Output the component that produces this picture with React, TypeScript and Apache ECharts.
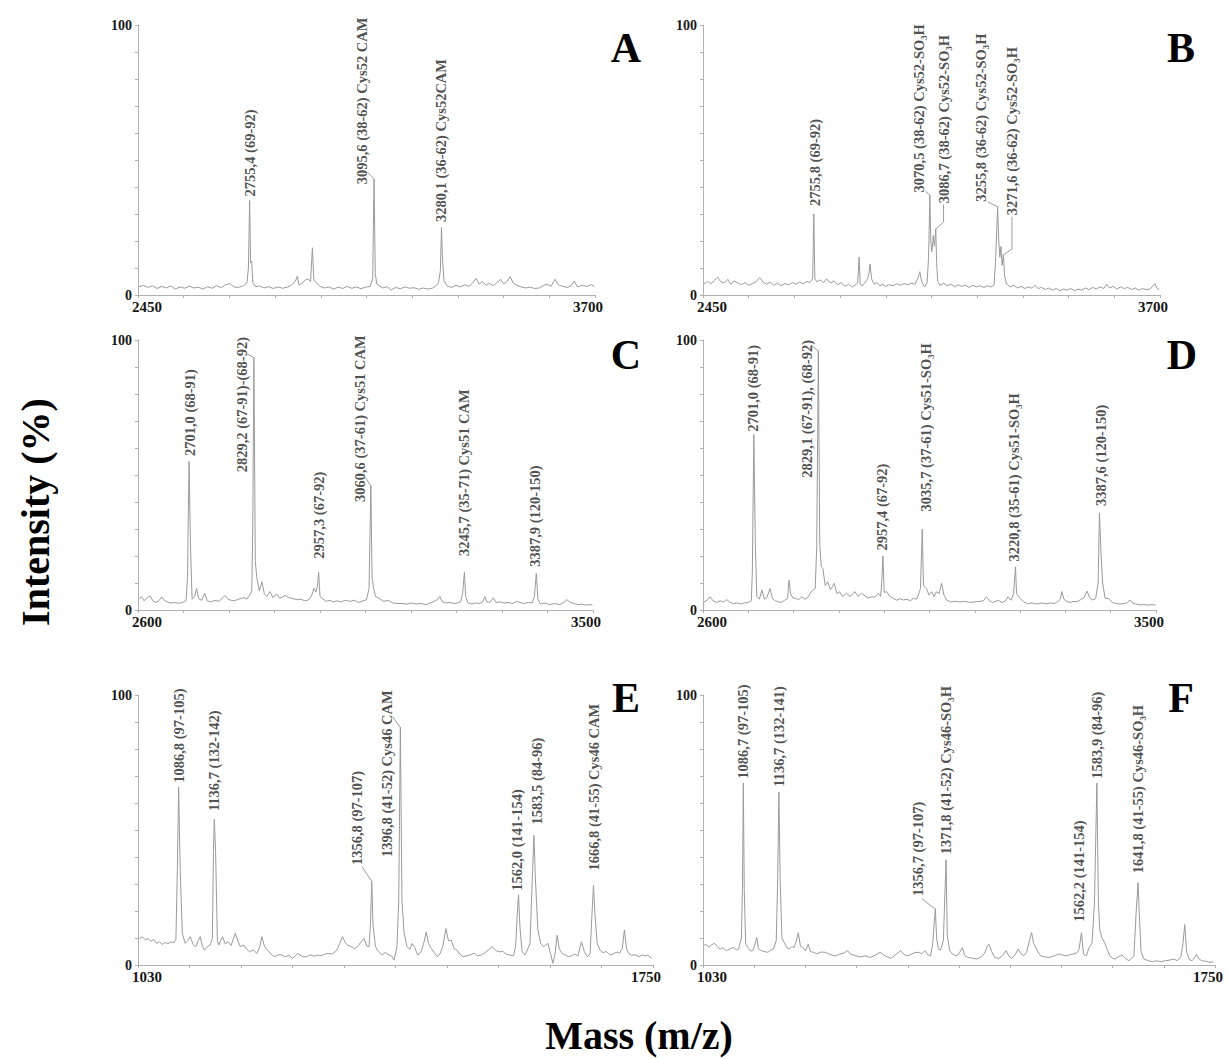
import React, { useEffect, useRef } from "react";
import * as echarts from "echarts";

type Pt = [number, number];
type Ann = { text: string; x: number; y: number; leader?: Pt[] };

// ---------- spectra (mass, intensity %) ----------
const spectrumA: Pt[] = [
  [2452,3.0],[2465,3.6],[2478,2.8],[2490,3.4],[2502,2.4],[2515,3.2],[2528,2.6],[2540,3.4],[2552,2.2],[2565,3.0],[2578,2.5],[2590,3.3],[2603,2.6],[2615,2.9],[2628,2.2],[2640,3.1],[2652,2.5],[2665,3.4],[2678,2.7],[2690,3.9],[2702,4.2],[2712,3.0],[2725,2.8],[2738,3.4],[2748,4.5],[2752,10],[2755.4,35],[2758,12],[2761,12.5],[2764,4.5],[2772,3.0],[2782,3.4],[2795,2.6],[2808,3.1],[2820,2.4],[2833,3.0],[2845,2.5],[2858,2.9],[2870,3.6],[2880,5.0],[2886,7.0],[2890,3.8],[2898,4.2],[2906,5.4],[2915,6.0],[2922,5.0],[2927,17.5],[2931,5.6],[2938,4.5],[2948,3.2],[2960,2.6],[2972,3.0],[2985,2.2],[2998,2.9],[3010,2.4],[3022,3.2],[3035,2.5],[3048,3.0],[3060,2.3],[3072,2.9],[3085,3.2],[3092,6],[3095.6,43],[3099,8],[3103,4.2],[3110,3.4],[3120,2.6],[3132,3.1],[3142,1.8],[3155,2.8],[3168,2.3],[3180,3.0],[3192,2.5],[3205,2.7],[3218,2.1],[3230,2.6],[3242,2.2],[3255,2.5],[3265,3.4],[3272,4.6],[3277,9],[3280.1,25],[3283,13],[3287,5.4],[3295,3.4],[3308,2.8],[3320,3.6],[3332,3.0],[3345,3.8],[3355,3.2],[3365,4.5],[3375,6.2],[3383,4.0],[3392,5.0],[3402,3.6],[3412,4.3],[3422,3.4],[3432,4.6],[3442,5.8],[3450,4.2],[3458,4.8],[3468,6.8],[3476,4.5],[3486,3.6],[3498,3.0],[3510,2.6],[3522,2.9],[3535,2.4],[3548,2.6],[3560,3.6],[3570,4.0],[3580,3.2],[3590,5.8],[3600,3.8],[3612,3.2],[3624,2.8],[3635,3.4],[3643,5.2],[3652,3.0],[3665,3.6],[3678,3.2],[3690,3.8],[3698,3.2]
];

const spectrumB: Pt[] = [
  [2452,4.0],[2462,5.0],[2472,4.2],[2482,5.5],[2490,6.6],[2498,5.0],[2508,4.4],[2518,5.8],[2526,4.0],[2535,5.2],[2545,4.5],[2555,3.8],[2565,4.6],[2575,3.6],[2585,4.2],[2596,5.0],[2605,6.4],[2614,4.8],[2624,4.0],[2634,4.8],[2644,3.6],[2654,4.4],[2664,3.4],[2674,4.2],[2684,3.8],[2694,4.6],[2704,4.0],[2714,4.8],[2724,4.2],[2734,5.0],[2742,4.6],[2750,6],[2753,30],[2756,6],[2762,4.8],[2770,5.6],[2780,4.6],[2788,6.0],[2798,4.4],[2808,5.2],[2818,3.8],[2828,4.6],[2838,3.2],[2848,4.0],[2858,3.0],[2866,3.6],[2873,4.5],[2877,14],[2880,4],[2886,3.4],[2893,4.6],[2900,6.0],[2904,8],[2907,11.5],[2911,6.0],[2918,4.0],[2926,4.6],[2934,3.4],[2942,4.0],[2950,3.2],[2960,3.8],[2970,3.4],[2980,4.2],[2990,3.6],[3000,4.2],[3010,3.8],[3020,4.4],[3030,4.0],[3037,6.0],[3043,8.6],[3048,5],[3056,3.0],[3063,4.5],[3067,14],[3070.5,37],[3073,20],[3076,16],[3080,22],[3083,18],[3086.7,24.5],[3089,12],[3092,5],[3098,3.6],[3108,4.4],[3118,3.4],[3128,4.0],[3138,3.0],[3148,3.8],[3158,3.2],[3168,3.6],[3178,2.8],[3188,3.6],[3198,3.0],[3208,3.4],[3218,2.8],[3228,3.4],[3238,3.0],[3246,3.6],[3250,12],[3255.8,32.7],[3259,20],[3262,14],[3265,18],[3268,11],[3271.6,15],[3275,7],[3280,4.2],[3290,3.0],[3300,3.6],[3310,2.6],[3320,3.2],[3330,2.4],[3340,3.0],[3350,2.5],[3358,3.6],[3366,2.4],[3376,2.8],[3386,2.0],[3396,2.6],[3406,1.8],[3416,2.4],[3426,1.6],[3436,2.2],[3446,1.8],[3456,2.4],[3466,1.6],[3476,2.2],[3486,1.8],[3496,2.6],[3506,2.0],[3516,2.8],[3526,2.2],[3536,3.0],[3546,2.4],[3554,4.0],[3562,2.6],[3572,3.2],[3582,2.2],[3592,3.0],[3602,2.4],[3612,2.8],[3622,2.0],[3632,2.6],[3642,1.8],[3652,2.4],[3662,2.0],[3672,2.2],[3680,3.2],[3686,4.2],[3692,2.4],[3698,2.0]
];

const spectrumC: Pt[] = [
  [2602,4.0],[2607,5.0],[2612,3.4],[2618,4.6],[2624,5.2],[2630,3.2],[2636,2.8],[2642,3.6],[2647,4.8],[2652,3.6],[2658,3.0],[2665,2.6],[2672,2.8],[2680,2.5],[2688,2.8],[2695,3.5],[2698,12],[2701,55],[2704,23],[2707,4.0],[2712,5.0],[2716,8.0],[2720,4.2],[2726,3.6],[2732,6.2],[2737,3.4],[2744,3.0],[2752,3.6],[2760,3.2],[2766,4.2],[2772,5.4],[2778,4.0],[2784,3.6],[2790,3.4],[2796,3.8],[2802,4.2],[2810,4.6],[2815,4.0],[2821,5.5],[2825,7.0],[2827,30],[2829.2,93.5],[2832,18],[2835,12],[2840,7],[2845,10.5],[2850,6],[2855,5],[2861,6.8],[2867,4.6],[2874,6.0],[2880,4.4],[2886,4.8],[2891,5.4],[2898,4.6],[2907,4.2],[2915,3.8],[2922,4.0],[2930,3.4],[2938,3.8],[2944,5.6],[2948,8.0],[2952,6.6],[2955,9],[2957.3,14],[2960,5],[2966,4.0],[2972,3.2],[2980,3.6],[2986,3.0],[2994,3.4],[3002,3.0],[3010,3.6],[3019,3.2],[3028,3.6],[3036,2.8],[3045,3.4],[3052,3.8],[3057,8],[3060.6,46],[3063,12],[3066,8],[3070,5],[3078,4.2],[3086,3.2],[3095,3.6],[3104,2.6],[3114,2.4],[3124,2.4],[3132,2.2],[3140,2.6],[3150,2.2],[3160,2.4],[3170,2.0],[3178,2.6],[3186,3.2],[3192,3.8],[3197,5.0],[3202,3.0],[3210,2.6],[3217,2.8],[3225,2.4],[3232,2.6],[3238,3.0],[3242,6],[3245.7,14],[3248,5],[3253,2.6],[3260,2.2],[3268,2.6],[3276,2.4],[3282,3.0],[3286,5.0],[3290,3.0],[3296,2.8],[3303,4.5],[3308,2.8],[3316,3.0],[3324,2.6],[3332,2.8],[3340,2.4],[3349,3.2],[3356,2.8],[3364,2.4],[3372,2.8],[3380,2.6],[3384,5],[3387.9,13.5],[3391,4],[3396,2.2],[3405,2.6],[3414,2.0],[3424,2.4],[3434,2.0],[3442,2.8],[3448,3.8],[3454,3.0],[3462,2.4],[3470,2.0],[3478,2.2],[3486,1.8],[3494,2.0],[3499,1.8]
];

const spectrumD: Pt[] = [
  [2602,3.0],[2608,3.6],[2614,4.9],[2620,3.4],[2627,2.8],[2634,3.4],[2641,3.0],[2647,3.8],[2654,2.8],[2661,2.4],[2668,2.6],[2675,2.2],[2682,2.6],[2690,2.8],[2696,3.4],[2698,14],[2701,65],[2704,23.5],[2707,5],[2712,4.0],[2717,7.4],[2722,4.0],[2727,4.6],[2733,8.0],[2738,4.2],[2744,3.4],[2750,3.0],[2756,2.8],[2762,3.6],[2768,4.2],[2771,11],[2774,6.0],[2779,4.4],[2784,4.3],[2790,3.8],[2796,4.9],[2802,4.0],[2808,4.6],[2815,6.8],[2823,8],[2826,24],[2829.1,96],[2832,24],[2835,16],[2838,15.5],[2843,9],[2848,10.5],[2853,7.5],[2857,8.6],[2861,9.9],[2866,6.0],[2871,6.8],[2877,5.0],[2885,6.2],[2892,5.0],[2902,6.8],[2908,5.0],[2915,6.2],[2922,5.2],[2928,4.4],[2935,4.9],[2942,4.8],[2948,6.2],[2953,5.0],[2955,10],[2957.4,20],[2960,6.5],[2965,6.8],[2971,5.0],[2978,4.3],[2985,3.6],[2992,4.2],[2998,3.7],[3005,4.0],[3012,3.4],[3018,4.3],[3024,4.0],[3028,5.6],[3032,8],[3035.7,30],[3038,9],[3044,8.0],[3049,5.5],[3054,6.8],[3059,5.0],[3064,6.8],[3069,6.0],[3074,9.9],[3079,5.4],[3084,3.7],[3092,3.0],[3100,3.2],[3110,3.0],[3120,3.2],[3130,2.8],[3140,3.0],[3150,3.2],[3157,3.4],[3163,4.9],[3169,3.4],[3175,2.8],[3180,3.1],[3187,3.6],[3194,2.8],[3200,3.2],[3206,4.9],[3212,3.6],[3217,6],[3220.8,16],[3223,6],[3230,4.3],[3237,3.0],[3245,2.4],[3254,2.6],[3263,2.2],[3272,2.6],[3281,2.3],[3290,2.6],[3298,2.4],[3304,3.0],[3310,4.0],[3313,6.8],[3317,4.0],[3323,3.1],[3330,2.8],[3337,3.2],[3343,3.0],[3350,3.8],[3357,4.6],[3363,7.0],[3368,4.6],[3373,3.7],[3380,4.2],[3385,10],[3387.6,36],[3391,20],[3394,10],[3399,4.2],[3406,4.3],[3413,2.8],[3420,2.4],[3428,2.2],[3436,2.4],[3443,2.6],[3448,3.7],[3453,2.6],[3460,2.2],[3468,1.9],[3476,2.0],[3484,1.8],[3492,2.0],[3499,1.8]
];

const spectrumE: Pt[] = [
  [1032,9.8],[1036,10.4],[1040,9.4],[1044,9.8],[1048,8.8],[1052,9.4],[1056,8.0],[1060,8.6],[1064,7.6],[1068,8.4],[1072,7.8],[1076,8.6],[1080,8.2],[1083,9.5],[1085,35],[1086.8,66],[1089,35],[1092,11.7],[1096,8.0],[1100,9.2],[1103,10.5],[1107,7.6],[1111,6.8],[1114,9.0],[1117,10.5],[1120,7.0],[1123,5.5],[1127,6.8],[1131,7.4],[1134,10],[1135.5,42],[1136.7,54],[1138.5,42],[1141,9],[1143,7.4],[1148,10.5],[1152,7.8],[1156,8.6],[1160,7.2],[1166,11.7],[1170,8.6],[1173,6.8],[1178,7.4],[1182,5.8],[1186,4.9],[1191,5.6],[1196,4.3],[1200,6.4],[1203,10.5],[1207,6.8],[1211,5.5],[1216,4.0],[1221,3.1],[1226,3.8],[1231,3.7],[1236,3.0],[1241,3.6],[1246,2.5],[1250,3.4],[1253,4.3],[1258,3.4],[1262,3.0],[1266,3.1],[1271,3.8],[1276,3.2],[1281,3.7],[1286,3.4],[1291,4.0],[1296,4.3],[1301,4.0],[1305,4.8],[1308,5.5],[1312,8.0],[1316,10.5],[1320,8.2],[1323,7.4],[1328,6.8],[1333,6.0],[1338,7.2],[1342,8.6],[1346,9.8],[1350,7.0],[1353,6.8],[1355,15],[1356.8,31],[1358.5,15],[1362,6.8],[1366,5.0],[1371,3.7],[1376,4.6],[1381,3.7],[1385,3.2],[1388,1.8],[1392,6.8],[1394.5,24],[1396.8,88],[1399,24],[1402,12],[1406,6.8],[1410,5.8],[1413,8.0],[1417,6.4],[1421,3.7],[1426,5.0],[1430,8.6],[1433,12.3],[1436,8.0],[1440,6.2],[1444,4.6],[1448,3.1],[1452,4.0],[1456,6.8],[1460.5,13.5],[1464,9.0],[1468,9.2],[1472,6.0],[1476,5.5],[1480,4.0],[1484,3.1],[1490,3.4],[1495,3.8],[1500,4.3],[1505,3.4],[1510,3.7],[1515,4.5],[1520,5.6],[1525,6.8],[1530,5.4],[1535,4.9],[1540,5.0],[1545,4.0],[1550,3.7],[1555,3.4],[1558,7],[1560,18],[1562,26],[1564,14],[1567,5],[1571,3.7],[1575,6.0],[1578,8.0],[1581,30],[1583.5,48],[1585.5,32.6],[1589,13],[1593,8.0],[1597,6.8],[1600,7.4],[1603,8.0],[1607,4.0],[1610,0.6],[1613,4.0],[1616,11],[1619,6.0],[1623,4.3],[1628,3.6],[1632,3.1],[1636,3.4],[1640,4.0],[1645,3.4],[1650,8.6],[1654,5.0],[1658,3.1],[1662,4.0],[1664.5,18],[1666.8,29.5],[1669,18],[1672,8.0],[1676,5.5],[1680,4.6],[1685,5.0],[1690,3.7],[1695,4.2],[1700,4.8],[1703,4.3],[1707,6.0],[1710,13],[1713,6.0],[1716,4.3],[1720,3.6],[1725,3.8],[1730,3.1],[1735,3.7],[1740,3.4],[1743,3.7],[1748,2.5]
];

const spectrumF: Pt[] = [
  [1031,7.1],[1034,7.7],[1038,6.6],[1042,7.4],[1046,8.1],[1050,6.8],[1054,5.9],[1058,6.4],[1063,5.3],[1068,6.0],[1073,6.5],[1077,5.6],[1080,5.9],[1084,10],[1085.5,28],[1086.7,67.4],[1088,28],[1090,8],[1093,6.5],[1097,5.2],[1100,5.3],[1103,7.5],[1105.6,10.2],[1108,6.0],[1112,5.3],[1116,5.0],[1121,4.7],[1125,5.4],[1129,5.9],[1133,9],[1135,31.7],[1136.7,64],[1138.5,31.7],[1141,10],[1144,8.4],[1148,6.4],[1151,5.9],[1155,6.8],[1158,6.5],[1161,8.6],[1164,12],[1167,7.0],[1170,6.5],[1174,5.2],[1178,7.7],[1181,5.0],[1185,4.7],[1190,4.2],[1196,4.8],[1202,4.7],[1208,4.0],[1212,3.6],[1216,3.4],[1222,4.0],[1228,4.4],[1233,5.3],[1238,4.0],[1245,3.4],[1252,3.0],[1258,3.4],[1265,2.8],[1272,3.6],[1279,4.7],[1286,3.4],[1294,2.5],[1300,3.6],[1308,5.3],[1313,3.8],[1318,3.4],[1323,4.0],[1328,4.6],[1333,4.7],[1338,4.2],[1342,5.3],[1346,3.8],[1350,3.4],[1353,8],[1356.7,21],[1358.5,10],[1361,5.9],[1364,5.5],[1368,9],[1371.8,39],[1373.5,11],[1377,5.3],[1381,4.0],[1386,3.4],[1390,4.2],[1394.8,6.5],[1398,3.5],[1402,2.8],[1408,2.6],[1415,2.2],[1421,3.0],[1426,4.4],[1430,7.0],[1432,7.7],[1436,5.0],[1440,2.8],[1446,2.4],[1451,3.4],[1456,5.3],[1460,3.4],[1464,2.5],[1469,3.8],[1473,5.9],[1477,4.2],[1481,3.4],[1485,4.6],[1489,9],[1492,12],[1495,8.0],[1498,6.5],[1502,4.4],[1505,3.4],[1511,3.0],[1517,2.8],[1524,3.4],[1531,4.1],[1536,3.6],[1541,3.4],[1546,3.8],[1551,4.1],[1556,4.5],[1559,6],[1562.2,12],[1565,4.0],[1569,3.4],[1573,6.5],[1577,8],[1580.5,23],[1583.9,67.4],[1586,23],[1588,13],[1591,10],[1594.7,8.4],[1598,6.0],[1602,3.4],[1606,2.5],[1609,2.2],[1614,3.0],[1619,3.7],[1624,2.4],[1629,1.6],[1633,2.6],[1636,3.4],[1639,19],[1641.8,30.5],[1643.5,19],[1646,5],[1650,2.2],[1656,1.6],[1662,1.2],[1668,1.6],[1674,1.2],[1680,1.6],[1686,1.8],[1692,2.2],[1697,1.6],[1702,3.0],[1705,8],[1707.5,15],[1710,5],[1714,2.0],[1718,1.6],[1721,2.6],[1724,4.0],[1727,2.4],[1731,1.6],[1737,1.4],[1743,1.0],[1748,1.2]
];

// ---------- peak annotations (anchor = bottom of rotated text, in data units) ----------
const labelsA: Ann[] = [
  { text: "2755,4 (69-92)", x: 2755.4, y: 36.5 },
  { text: "3095,6 (38-62) Cys52 CAM", x: 3063, y: 41, leader: [[3078, 45.5], [3095.6, 43]] },
  { text: "3280,1 (36-62) Cys52CAM", x: 3280.1, y: 27 },
];
const labelsB: Ann[] = [
  { text: "2755,8 (69-92)", x: 2756, y: 33 },
  { text: "3070,5 (38-62) Cys52-SO\u2083H", x: 3040, y: 38, leader: [[3058, 38.5], [3070.5, 37]] },
  { text: "3086,7 (38-62) Cys52-SO\u2083H", x: 3108, y: 34, leader: [[3108, 33.5], [3108, 27], [3087, 24.5]] },
  { text: "3255,8 (36-62) Cys52-SO\u2083H", x: 3210, y: 34.5, leader: [[3229, 34.5], [3255.8, 32.7]] },
  { text: "3271,6 (36-62) Cys52-SO\u2083H", x: 3295, y: 29.5, leader: [[3295, 29], [3295, 17], [3273, 15]] },
];
const labelsC: Ann[] = [
  { text: "2701,0 (68-91)", x: 2703, y: 57 },
  { text: "2829,2 (67-91)-(68-92)", x: 2805, y: 51, leader: [[2815, 95], [2829.2, 93.5]] },
  { text: "2957,3 (67-92)", x: 2958, y: 19 },
  { text: "3060,6 (37-61) Cys51 CAM", x: 3039, y: 40, leader: [[3050, 49], [3060.6, 46]] },
  { text: "3245,7 (35-71) Cys51 CAM", x: 3245, y: 20 },
  { text: "3387,9 (120-150)", x: 3386, y: 16 },
];
const labelsD: Ann[] = [
  { text: "2701,0 (68-91)", x: 2699, y: 66 },
  { text: "2829,1 (67-91), (68-92)", x: 2806, y: 49, leader: [[2815, 98], [2829.1, 96]] },
  { text: "2957,4 (67-92)", x: 2955, y: 22 },
  { text: "3035,7 (37-61) Cys51-SO\u2083H", x: 3044, y: 36.5 },
  { text: "3220,8 (35-61) Cys51-SO\u2083H", x: 3217, y: 18 },
  { text: "3387,6 (120-150)", x: 3390, y: 38.5 },
];
const labelsE: Ann[] = [
  { text: "1086,8 (97-105)", x: 1086.8, y: 67.5 },
  { text: "1136,7 (132-142)", x: 1136.7, y: 57 },
  { text: "1356,8 (97-107)", x: 1336.6, y: 37, leader: [[1343, 36.5], [1356.8, 31]] },
  { text: "1396,8 (41-52) Cys46 CAM", x: 1378, y: 40, leader: [[1386, 92], [1396.8, 88]] },
  { text: "1562,0 (141-154)", x: 1560.4, y: 27.5 },
  { text: "1583,5 (84-96)", x: 1588, y: 52 },
  { text: "1666,8 (41-55) Cys46 CAM", x: 1667, y: 35 },
];
const labelsF: Ann[] = [
  { text: "1086,7 (97-105)", x: 1086.7, y: 69 },
  { text: "1136,7 (132-141)", x: 1136.7, y: 66 },
  { text: "1356,7 (97-107)", x: 1331.7, y: 25.6, leader: [[1338, 24.5], [1355, 21]] },
  { text: "1371,8 (41-52) Cys46-SO\u2083H", x: 1371.8, y: 41 },
  { text: "1562,2 (141-154)", x: 1558.3, y: 16 },
  { text: "1583,9 (84-96)", x: 1583.9, y: 69 },
  { text: "1641,8 (41-55) Cys46-SO\u2083H", x: 1641.8, y: 34 },
];

// ---------- axis ranges and panel letters ----------
const panelLetters = ["A", "B", "C", "D", "E", "F"];
const xRanges: Pt[] = [[2450, 3700], [2450, 3700], [2600, 3500], [2600, 3500], [1030, 1750], [1030, 1750]];
const yRange: Pt = [0, 100];
const yTitle = "Intensity (%)";
const xTitle = "Mass (m/z)";

// ---------- layout (px) ----------
const gridBoxes = [
  { left: 138, top: 25, width: 457, height: 270 },
  { left: 703, top: 25, width: 457, height: 270 },
  { left: 138, top: 340, width: 455, height: 270 },
  { left: 703, top: 340, width: 453, height: 270 },
  { left: 138, top: 695, width: 515, height: 270 },
  { left: 703, top: 695, width: 512, height: 270 },
];
const letterPos: Pt[] = [[626, 48], [1181, 48], [626, 355], [1182, 355], [626, 698], [1181, 698]];

const spectra = [spectrumA, spectrumB, spectrumC, spectrumD, spectrumE, spectrumF];
const annotations = [labelsA, labelsB, labelsC, labelsD, labelsE, labelsF];

const FONT = "Liberation Serif";
const LINE = "#9a9a9a";
const AXIS = "#b0b0b0";
const INK = "#161616";

export default function App() {
  const ref = useRef<HTMLDivElement>(null);
  useEffect(() => {
    document.body.style.margin = "0";
    if (!ref.current) return;
    const chart = echarts.init(ref.current, undefined, { renderer: "svg" });

    const grids = gridBoxes.map((g) => ({ ...g, containLabel: false, outerBoundsMode: "none" }));

    const xAxes = xRanges.map(([mn, mx], i) => {
      const ticks = Array.from({ length: 11 }, (_, k) => mn + (k * (mx - mn)) / 10);
      return {
        type: "value",
        gridIndex: i,
        min: mn,
        max: mx,
        splitLine: { show: false },
        axisLine: { show: true, onZero: false, lineStyle: { color: AXIS, width: 1 } },
        axisTick: { show: true, customValues: ticks, length: 3, lineStyle: { color: AXIS } },
        axisLabel: {
          customValues: [mn, mx],
          margin: 4,
          formatter: (v: number) => (v === mn ? `{l|${v}}` : `{r|${v}}`),
          rich: {
            l: { fontFamily: FONT, fontWeight: "bold", fontSize: 15, color: INK, padding: [0, 0, 0, 18] },
            r: { fontFamily: FONT, fontWeight: "bold", fontSize: 15, color: INK, padding: [0, 14, 0, 0] },
          },
        },
      };
    });

    const yAxes = gridBoxes.map((_, i) => ({
      type: "value",
      gridIndex: i,
      min: yRange[0],
      max: yRange[1],
      splitLine: { show: false },
      axisLine: { show: true, onZero: false, lineStyle: { color: AXIS, width: 1 } },
      axisTick: { show: true, customValues: [0, 10, 20, 30, 40, 50, 60, 70, 80, 90, 100], length: 3, lineStyle: { color: AXIS } },
      axisLabel: {
        customValues: [0, 100],
        margin: 6,
        fontFamily: FONT,
        fontWeight: "bold",
        fontSize: 14,
        color: INK,
      },
    }));

    const series: any[] = [];
    spectra.forEach((data, i) => {
      series.push({
        type: "line",
        xAxisIndex: i,
        yAxisIndex: i,
        data,
        symbol: "none",
        silent: true,
        lineStyle: { color: LINE, width: 1 },
      });
      annotations[i].forEach((a) => {
        if (a.leader) {
          series.push({
            type: "line",
            xAxisIndex: i,
            yAxisIndex: i,
            data: a.leader,
            symbol: "none",
            silent: true,
            lineStyle: { color: LINE, width: 1 },
          });
        }
      });
      series.push({
        type: "scatter",
        xAxisIndex: i,
        yAxisIndex: i,
        symbolSize: 0,
        silent: true,
        data: annotations[i].map((a) => [a.x, a.y, a.text]),
        label: {
          show: true,
          position: "top",
          distance: 0,
          rotate: 90,
          align: "left",
          verticalAlign: "middle",
          formatter: (p: any) => p.data[2],
          fontFamily: FONT,
          fontWeight: "bold",
          fontSize: 14.5,
          color: "#222",
        },
      });
    });

    const graphic: any[] = panelLetters.map((t, i) => ({
      type: "text",
      x: letterPos[i][0],
      y: letterPos[i][1],
      style: { text: t, fontFamily: FONT, fontWeight: "bold", fontSize: 42, fill: "#000", textAlign: "center", textVerticalAlign: "middle" },
    }));
    graphic.push({
      type: "text",
      x: 35,
      y: 512,
      rotation: Math.PI / 2,
      style: { text: yTitle, fontFamily: FONT, fontWeight: "bold", fontSize: 40, fill: "#000", textAlign: "center", textVerticalAlign: "middle" },
    });
    graphic.push({
      type: "text",
      x: 639,
      y: 1035,
      style: { text: xTitle, fontFamily: FONT, fontWeight: "bold", fontSize: 40, fill: "#000", textAlign: "center", textVerticalAlign: "middle" },
    });

    chart.setOption({
      animation: false,
      backgroundColor: "#fff",
      textStyle: { fontFamily: FONT },
      grid: grids,
      xAxis: xAxes,
      yAxis: yAxes,
      series,
      graphic,
    });
    return () => chart.dispose();
  }, []);
  return (
    <div
      ref={ref}
      style={{ position: "fixed", left: 0, top: 0, width: 1227, height: 1059, background: "#fff" }}
    />
  );
}
